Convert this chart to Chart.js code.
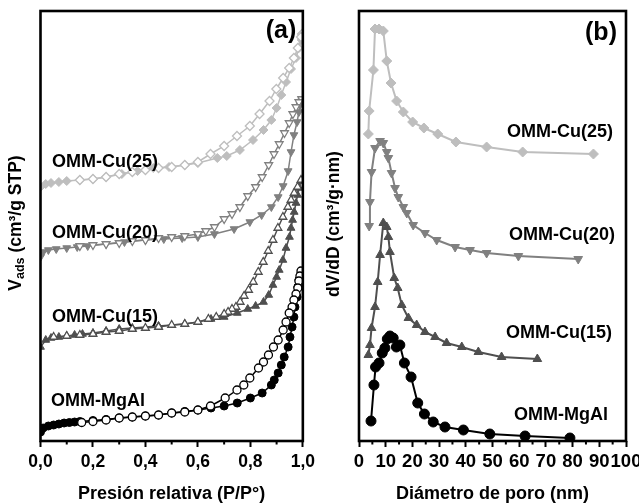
<!DOCTYPE html>
<html><head><meta charset="utf-8">
<script src="https://cdn.jsdelivr.net/npm/chart.js@4"></script>
<style>
html,body{margin:0;padding:0;background:#fff;overflow:hidden;width:639px;height:504px;}
#ca{position:absolute;left:0;top:0;}
#cb{position:absolute;left:320px;top:0;}
</style></head><body>
<canvas id="ca" width="320" height="504"></canvas>
<canvas id="cb" width="330" height="504"></canvas>
<script>
// ---------- Panel (a): isotherms (relative pressure vs adsorbed volume, arbitrary offset units) ----------
const mgalAdsP = [0.0,0.01,0.03,0.05,0.07,0.09,0.11,0.13,0.15,0.20,0.25,0.30,0.35,0.40,0.45,0.50,0.55,0.60,0.65,0.70,0.75,0.80,0.845,0.88,0.891,0.906,0.918,0.929,0.944,0.951,0.959,0.966,0.970,0.978,0.981,0.985,0.993];
const mgalAdsV = [9,13,15,16,17,18,18.5,19,19.5,20.5,21.5,23,24,25,26,28,29.5,31,33,35,38,43,48,56,61,68,76,84,94,104,114,124,134,144,154,161,168];
const mgalDesP = [0.993,0.989,0.985,0.981,0.974,0.966,0.959,0.948,0.936,0.925,0.906,0.888,0.869,0.850,0.831,0.798,0.775,0.749,0.704,0.648,0.60,0.55,0.50,0.45,0.40,0.35,0.30,0.25,0.20,0.157];
const mgalDesV = [170,165,160,153,147,141,134,128,119,111,101,94,86,79,73,63,56,51,43,35,31,29,28,26,25,24,23,21,19.5,18.5];

const cu15AdsP = [0.0,0.02,0.04,0.07,0.10,0.13,0.16,0.20,0.25,0.30,0.35,0.45,0.55,0.60,0.65,0.70,0.75,0.79,0.82,0.85,0.87,0.886,0.90,0.91,0.924,0.936,0.949,0.955,0.961,0.967,0.974,0.98,0.986,0.993];
const cu15AdsV = [94,101,103,104,105,106,107,108,110,112,113,115,117,119,122,124,128,132,135,139,146,156,164,171,181,193,204,213,221,229,238,246,253,260];
const cu15DesP = [0.993,0.98,0.967,0.955,0.943,0.924,0.905,0.886,0.868,0.849,0.83,0.811,0.793,0.776,0.761,0.745,0.73,0.715,0.70,0.67,0.64,0.60,0.55,0.50,0.45,0.40,0.35,0.30,0.25,0.20,0.15,0.10,0.05];
const cu15DesV = [261,254,248,241,234,224,213,201,190,179,169,159,151,145,139,134,132,129,127,124,122,119,117,116,114,113,112,110,109,107,106,105,104];

const cu20AdsP = [0.0,0.01,0.03,0.06,0.10,0.14,0.18,0.25,0.32,0.40,0.47,0.54,0.60,0.663,0.738,0.798,0.843,0.88,0.906,0.925,0.944,0.955,0.966,0.978,0.985,0.989,0.996];
const cu20AdsV = [184,189,191,192,193,194,195,197,199,201,202,203,204,207,212,219,226,234,244,255,270,289,306,319,329,336,341];
const cu20DesP = [0.996,0.985,0.974,0.962,0.948,0.93,0.91,0.89,0.87,0.845,0.82,0.79,0.76,0.73,0.70,0.663,0.63,0.60,0.55,0.50,0.45,0.40,0.35,0.30,0.25,0.20,0.15];
const cu20DesV = [342,339,334,327,318,308,297,287,276,264,254,245,234,227,222,214,210,207,205,204,203,201,200,198,197,196,195];

const cu25AdsP = [0.0,0.02,0.04,0.07,0.10,0.15,0.20,0.25,0.31,0.37,0.43,0.49,0.55,0.60,0.674,0.71,0.76,0.81,0.85,0.88,0.90,0.918,0.936,0.955,0.974,0.985,0.996];
const cu25AdsV = [254,257,258,259,260,261,262,264,267,270,273,274,276,278,283,285,291,301,311,321,333,346,359,372,383,393,401];
const cu25DesP = [0.997,0.993,0.981,0.966,0.948,0.925,0.899,0.873,0.835,0.798,0.749,0.70,0.648,0.60,0.55,0.50,0.45,0.40,0.35,0.30,0.25,0.20,0.15];
const cu25DesV = [407,404,393,383,373,363,352,340,327,315,305,295,287,279,276,274,273,271,269,267,264,262,261];

const isoTickLabels = ['0,0','0,2','0,4','0,6','0,8','1,0'];
const isoXTitle = 'Presión relativa (P/P°)';

// ---------- Panel (b): pore size distributions ----------
const cu25D = [3.5,3.8,5.4,6.0,7.5,9.1,10.4,12.0,14.1,16.6,20.1,24.3,29.5,36.3,47.8,61.3,87.8];
const cu25dV = [306,329,370,411,411,409,379,357,339,328,318,312,306,298,293,288,286];
const cu20D = [3.8,4.1,4.7,6.0,7.9,9.1,10.4,11.0,12.2,13.5,14.7,16.6,17.9,20.3,24.7,29.1,36.0,41.6,47.8,59.7,82.1];
const cu20dV = [214,238,268,292,299,297,288,282,267,252,243,233,227,215,207,200,193,190,187,184,181];
const cu15D = [3.5,4.1,4.7,6.0,7.0,7.9,9.1,10.4,11.0,11.6,13.2,14.5,16.0,18.5,21.6,24.7,28.5,32.8,38.5,44.7,53.4,66.8];
const cu15dV = [85,95,112,133,158,185,217,213,203,188,162,152,135,122,115,108,103,97,93,88,83,81];
const mgalD = [4.5,5.6,6.2,7.5,8.7,9.7,10.6,11.6,12.8,14.0,15.3,17.0,19.5,22.0,24.5,27.8,32.2,39.1,49.0,62.2,79.0];
const mgaldV = [19,55,73,77,87,92,101,104,102,93,95,77,63,37,26,18,13,10,6,4,2];

const psdXTitle = 'Diámetro de poro (nm)';
const seriesNames = ['OMM-Cu(25)','OMM-Cu(20)','OMM-Cu(15)','OMM-MgAl'];

// ---------- styling ----------
const C25 = '#bebebe', C20 = '#808080', C15 = '#4f4f4f', CMG = '#000000';
const FAM = '"Liberation Sans", Arial, Helvetica, sans-serif';
Chart.defaults.font.family = FAM;
Chart.defaults.font.weight = 'bold';
Chart.defaults.color = '#000';

const pts = (xs, ys) => xs.map((x, i) => ({x, y: ys[i]}));

function ds(xs, ys, color, style, open, radius, rot, lw) {
  return {
    data: pts(xs, ys),
    showLine: true,
    borderColor: color,
    borderWidth: lw,
    pointStyle: style,
    pointRotation: rot || 0,
    pointRadius: radius,
    pointBackgroundColor: open ? '#ffffff' : color,
    pointBorderColor: color,
    pointBorderWidth: open ? 1.3 : 1,
    tension: 0
  };
}

function panelPlugin(cfg) {
  return {
    id: 'panel_' + cfg.tag,
    afterDraw(chart) {
      const {ctx, chartArea: a} = chart;
      const x = chart.scales.x;
      ctx.save();
      ctx.strokeStyle = '#000';
      ctx.lineWidth = 2;
      cfg.minor.forEach(v => {
        const px = x.getPixelForValue(v);
        ctx.beginPath(); ctx.moveTo(px, a.bottom); ctx.lineTo(px, a.bottom + 3.5); ctx.stroke();
      });
      ctx.lineWidth = 2.6;
      ctx.strokeRect(a.left, a.top, a.right - a.left, a.bottom - a.top);
      ctx.fillStyle = '#000';
      ctx.font = 'bold 25px ' + FAM;
      ctx.textAlign = 'center'; ctx.textBaseline = 'middle';
      ctx.fillText(cfg.tag, cfg.tagX, cfg.tagY);
      ctx.font = 'bold 18px ' + FAM;
      ctx.textAlign = cfg.labelAlign;
      cfg.labels.forEach(l => ctx.fillText(l.t, l.x, l.y));
      ctx.translate(cfg.yTitleX, cfg.yTitleY);
      ctx.rotate(-Math.PI / 2);
      ctx.textAlign = 'left'; ctx.textBaseline = 'middle';
      const f1 = 'bold 17.5px ' + FAM, f2 = 'bold 12.5px ' + FAM;
      let total = 0;
      cfg.yTitle.forEach(p => { ctx.font = p.sub ? f2 : f1; p.w = ctx.measureText(p.t).width; total += p.w; });
      let sx = -total / 2;
      cfg.yTitle.forEach(p => { ctx.font = p.sub ? f2 : f1; ctx.fillText(p.t, sx, p.sub ? 5 : 0); sx += p.w; });
      ctx.restore();
    }
  };
}

// ---------- Chart (a) ----------
new Chart(document.getElementById('ca'), {
  type: 'scatter',
  data: {
    datasets: [
      ds(cu25DesP, cu25DesV, C25, 'rectRot', true, 4.5, 0, 1.5),
      ds(cu25AdsP, cu25AdsV, C25, 'rectRot', false, 4.5, 0, 1.5),
      ds(cu20DesP, cu20DesV, C20, 'triangle', true, 4.5, 180, 1.5),
      ds(cu20AdsP, cu20AdsV, C20, 'triangle', false, 4.5, 180, 1.5),
      ds(cu15DesP, cu15DesV, C15, 'triangle', true, 4.5, 0, 1.5),
      ds(cu15AdsP, cu15AdsV, C15, 'triangle', false, 4.5, 0, 1.5),
      ds(mgalDesP, mgalDesV, CMG, 'circle', true, 4, 0, 1.5),
      ds(mgalAdsP, mgalAdsV, CMG, 'circle', false, 4, 0, 1.5)
    ]
  },
  options: {
    responsive: false, animation: false,
    layout: {padding: {left: 40.5, top: 11, right: 13.3, bottom: 0}},
    plugins: {legend: {display: false}, tooltip: {enabled: false}},
    scales: {
      x: {
        type: 'linear', min: 0, max: 1,
        afterFit: s => { s.height = 63; },
        border: {display: false},
        grid: {drawOnChartArea: false, drawTicks: true, tickLength: 6, tickWidth: 2, tickColor: '#000'},
        ticks: {stepSize: 0.2, autoSkip: false, maxRotation: 0, padding: 5, color: '#000',
          font: {size: 17.5, weight: 'bold'},
          callback: (v) => isoTickLabels[Math.round(v * 5)] },
        title: {display: true, text: isoXTitle, color: '#000', font: {size: 18, weight: 'bold'}, padding: {top: 0, bottom: -1}}
      },
      y: {type: 'linear', min: 0, max: 430, display: false}
    }
  },
  plugins: [panelPlugin({
    tag: '(a)', tagX: 281, tagY: 31,
    minor: [0.1, 0.3, 0.5, 0.7, 0.9],
    labelAlign: 'left',
    labels: [
      {t: seriesNames[0], x: 52, y: 162},
      {t: seriesNames[1], x: 52, y: 233},
      {t: seriesNames[2], x: 52, y: 317},
      {t: seriesNames[3], x: 51, y: 401}
    ],
    yTitleX: 16, yTitleY: 223,
    yTitle: [{t: 'V'}, {t: 'ads', sub: true}, {t: ' (cm³/g STP)'}]
  })]
});

// ---------- Chart (b) ----------
new Chart(document.getElementById('cb'), {
  type: 'scatter',
  data: {
    datasets: [
      ds(cu25D, cu25dV, C25, 'rectRot', false, 5, 0, 2),
      ds(cu20D, cu20dV, C20, 'triangle', false, 5, 180, 2),
      ds(cu15D, cu15dV, C15, 'triangle', false, 5, 0, 2),
      ds(mgalD, mgaldV, CMG, 'circle', false, 5, 0, 2)
    ]
  },
  options: {
    responsive: false, animation: false,
    layout: {padding: {left: 39, top: 11, right: 24, bottom: 0}},
    plugins: {legend: {display: false}, tooltip: {enabled: false}},
    scales: {
      x: {
        type: 'linear', min: 0, max: 100,
        afterFit: s => { s.height = 63; },
        border: {display: false},
        grid: {drawOnChartArea: false, drawTicks: true, tickLength: 6, tickWidth: 2, tickColor: '#000'},
        ticks: {stepSize: 10, autoSkip: false, maxRotation: 0, padding: 4, color: '#000',
          font: {size: 18.5, weight: 'bold'}},
        title: {display: true, text: psdXTitle, color: '#000', font: {size: 18, weight: 'bold'}, padding: {top: 0, bottom: -1}}
      },
      y: {type: 'linear', min: -1, max: 429, display: false}
    }
  },
  plugins: [panelPlugin({
    tag: '(b)', tagX: 281, tagY: 33,
    minor: [5, 15, 25, 35, 45, 55, 65, 75, 85, 95],
    labelAlign: 'right',
    labels: [
      {t: seriesNames[0], x: 293, y: 132},
      {t: seriesNames[1], x: 295, y: 235},
      {t: seriesNames[2], x: 292, y: 333},
      {t: seriesNames[3], x: 288, y: 415}
    ],
    yTitleX: 14, yTitleY: 224,
    yTitle: [{t: 'dV/dD (cm³/g·nm)'}]
  })]
});
</script>
</body></html>
